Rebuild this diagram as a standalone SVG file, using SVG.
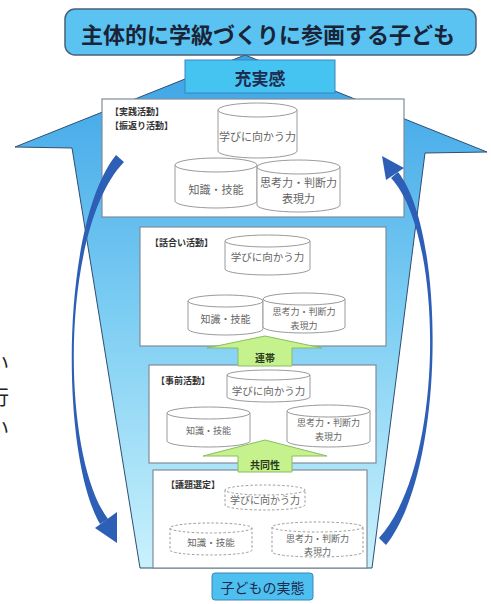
<svg xmlns="http://www.w3.org/2000/svg" width="491" height="604" viewBox="0 0 491 604">
<style>
text{font-family:"Noto Sans CJK JP","Noto Sans",sans-serif}
.box{fill:#fff;stroke:#7f8c99;stroke-width:1.2}
.cyl{fill:#fff;stroke:#9a9a9a;stroke-width:1}
.dash{stroke-dasharray:2.5 2}
.ct{fill:#666;font-size:11px;text-anchor:middle;dominant-baseline:central}
.lbl{fill:#333;font-size:9px;font-weight:bold;dominant-baseline:central}
.garr{fill:#c6f28e;stroke:#8cbc62;stroke-width:1}
.gt{fill:#2a3a1a;font-size:10px;font-weight:bold;text-anchor:middle;dominant-baseline:central}
.curve{fill:#2e5fb6}
.hd{fill:#5bc3f1;stroke:#4a6078;stroke-width:1.5}
.hdt{fill:#1a2438;font-weight:bold;text-anchor:middle;dominant-baseline:central}
.side{font-family:"Noto Sans CJK JP",serif;font-size:20px;fill:#222}
</style>
<defs>
<linearGradient id="fg" x1="0" y1="55" x2="0" y2="568" gradientUnits="userSpaceOnUse">
<stop offset="0" stop-color="#3ba3e6"/>
<stop offset="0.5" stop-color="#7ccdf3"/>
<stop offset="1" stop-color="#c9f1fc"/>
</linearGradient>
</defs>
<rect width="491" height="604" fill="#fff"/>

<g id="side-text">
<text class="side" x="-11" y="371">い</text>
<text class="side" x="-11" y="405">行</text>
<text class="side" x="-11" y="436">い</text>
</g>

<g id="funnel">
<polygon points="245,55 487,152 425,153 372,568 140,568 72,148 15,147" fill="url(#fg)" stroke="#2e4e70" stroke-width="1"/>
</g>

<g id="box1">
<rect class="box" x="102" y="99" width="302" height="118"/>
<text class="lbl" x="110" y="111">【実践活動】</text>
<text class="lbl" x="110" y="125">【振返り活動】</text>
<g>
<path class="cyl" d="M218,110 L218,151 A39.5,7 0 0 0 297,151 L297,110"/>
<ellipse class="cyl" cx="257.5" cy="110" rx="39.5" ry="7"/>
<text class="ct" x="257.5" y="136">学びに向かう力</text>
</g>
<g>
<path class="cyl" d="M175,165 L175,201 A41,7 0 0 0 257,201 L257,165"/>
<ellipse class="cyl" cx="216" cy="165" rx="41" ry="7"/>
<text class="ct" x="216" y="189">知識・技能</text>
</g>
<g>
<path class="cyl" d="M257,167 L257,205 A41.5,7 0 0 0 340,205 L340,167"/>
<ellipse class="cyl" cx="298.5" cy="167" rx="41.5" ry="7"/>
<text class="ct" x="298.5" y="182">思考力・判断力</text>
<text class="ct" x="298.5" y="198">表現力</text>
</g>
</g>

<g id="box2">
<rect class="box" x="140" y="227" width="246" height="119"/>
<text class="lbl" x="150" y="242">【話合い活動】</text>
<g>
<path class="cyl" d="M225,241 L225,269 A42.5,6 0 0 0 310,269 L310,241"/>
<ellipse class="cyl" cx="267.5" cy="241" rx="42.5" ry="6"/>
<text class="ct" x="267.5" y="256" style="font-size:10.5px">学びに向かう力</text>
</g>
<g>
<path class="cyl" d="M188,301 L188,329 A37.5,6 0 0 0 263,329 L263,301"/>
<ellipse class="cyl" cx="225.5" cy="301" rx="37.5" ry="6"/>
<text class="ct" x="225.5" y="318" style="font-size:10px">知識・技能</text>
</g>
<g>
<path class="cyl" d="M263,299 L263,327 A41,6 0 0 0 345,327 L345,299"/>
<ellipse class="cyl" cx="304" cy="299" rx="41" ry="6"/>
<text class="ct" x="304" y="311.5" style="font-size:9px">思考力・判断力</text>
<text class="ct" x="304" y="325" style="font-size:9px">表現力</text>
</g>
</g>

<g id="box3">
<rect class="box" x="149" y="365" width="227" height="98"/>
<text class="lbl" x="156" y="380">【事前活動】</text>
<g>
<path class="cyl" d="M227,375 L227,397 A41.5,5 0 0 0 310,397 L310,375"/>
<ellipse class="cyl" cx="268.5" cy="375" rx="41.5" ry="5"/>
<text class="ct" x="268.5" y="390" style="font-size:10.5px">学びに向かう力</text>
</g>
<g>
<path class="cyl" d="M167,413 L167,441 A41.5,6 0 0 0 250,441 L250,413"/>
<ellipse class="cyl" cx="208.5" cy="413" rx="41.5" ry="6"/>
<text class="ct" x="208.5" y="430" style="font-size:9px">知識・技能</text>
</g>
<g>
<path class="cyl" d="M287,411 L287,441 A41.5,6 0 0 0 370,441 L370,411"/>
<ellipse class="cyl" cx="328.5" cy="411" rx="41.5" ry="6"/>
<text class="ct" x="328.5" y="422.5" style="font-size:9px">思考力・判断力</text>
<text class="ct" x="328.5" y="436" style="font-size:9px">表現力</text>
</g>
</g>

<g id="box4">
<rect class="box" x="153" y="470" width="214" height="98"/>
<text class="lbl" x="166" y="484">【議題選定】</text>
<g>
<path class="cyl dash" d="M225,490 L225,505 A40,5 0 0 0 305,505 L305,490"/>
<ellipse class="cyl dash" cx="265" cy="490" rx="40" ry="5"/>
<text class="ct" x="265" y="499" style="font-size:10px">学びに向かう力</text>
</g>
<g>
<path class="cyl dash" d="M170,528 L170,550 A41,5 0 0 0 252,550 L252,528"/>
<ellipse class="cyl dash" cx="211" cy="528" rx="41" ry="5"/>
<text class="ct" x="211" y="542" style="font-size:9.5px">知識・技能</text>
</g>
<g>
<path class="cyl dash" d="M272,527 L272,552 A45.5,5 0 0 0 363,552 L363,527"/>
<ellipse class="cyl dash" cx="317.5" cy="527" rx="45.5" ry="5"/>
<text class="ct" x="317.5" y="538" style="font-size:9px">思考力・判断力</text>
<text class="ct" x="317.5" y="551.5" style="font-size:9px">表現力</text>
</g>
</g>

<g id="connectors">
<g id="arrow-rentai">
<polygon class="garr" points="265,336 322,348 292,348 292,366 238,366 238,348 207,348"/>
<text class="gt" x="265" y="357">連帯</text>
</g>
<g id="arrow-kyodo">
<polygon class="garr" points="265,440 327,456 292,456 292,472 238,472 238,456 203,456"/>
<text class="gt" x="265" y="464">共同性</text>
</g>
<g id="curve-left">
<path class="curve" d="M116,155 C60,225 60,455 100,524 L108,519 C60,455 60,228 124,162 Z"/>
<polygon class="curve" points="95,528 117,512 117,543"/>
</g>
<g id="curve-right">
<path class="curve" d="M386,545 C446,470 446,232 398,172 L391,178 C445,236 445,466 379,538 Z"/>
<polygon class="curve" points="404,168 386,180 382,156"/>
</g>
</g>

<g id="title">
<rect class="hd" x="65" y="9" width="411" height="46" rx="10"/>
<text class="hdt" x="268" y="33" style="font-size:22px">主体的に学級づくりに参画する子ども</text>
</g>

<g id="jujitsukan">
<rect x="185" y="60" width="150" height="33" fill="#45c4f1" stroke="#3a86bb" stroke-width="1"/>
<text class="hdt" x="260" y="77" style="font-size:17px;fill:#1d2b4f">充実感</text>
</g>

<g id="jittai">
<rect x="212" y="573" width="101" height="27" rx="3" fill="#4ec0ef" stroke="#3a86bb" stroke-width="1"/>
<text class="hdt" x="262.5" y="587" style="font-size:14px;fill:#1d2b4f;font-weight:normal">子どもの実態</text>
</g>
</svg>
